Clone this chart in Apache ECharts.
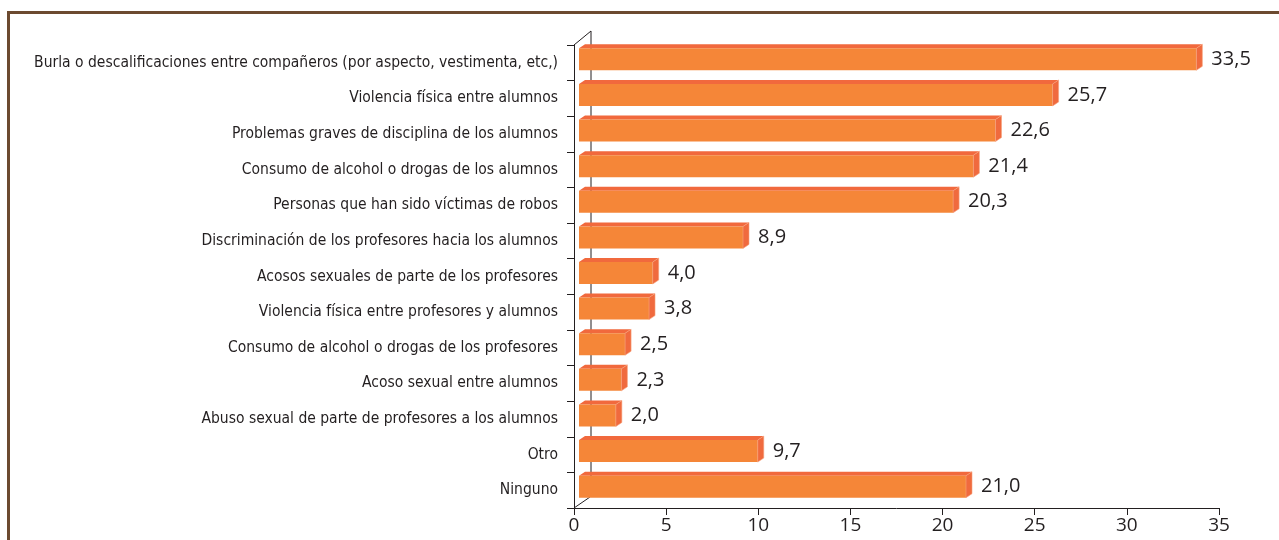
<!DOCTYPE html>
<html>
<head>
<meta charset="utf-8">
<script src="https://cdn.jsdelivr.net/npm/echarts@6/dist/echarts.min.js"></script>
<style>
  html, body { margin: 0; padding: 0; background: #fff; }
  #chart { width: 1279px; height: 540px; }
</style>
</head>
<body>
<div id="chart"></div>
<script>
// data
const categories = [
  'Burla o descalificaciones entre compañeros (por aspecto, vestimenta, etc,)',
  'Violencia física entre alumnos',
  'Problemas graves de disciplina de los alumnos',
  'Consumo de alcohol o drogas de los alumnos',
  'Personas que han sido víctimas de robos',
  'Discriminación de los profesores hacia los alumnos',
  'Acosos sexuales de parte de los profesores',
  'Violencia física entre profesores y alumnos',
  'Consumo de alcohol o drogas de los profesores',
  'Acoso sexual entre alumnos',
  'Abuso sexual de parte de profesores a los alumnos',
  'Otro',
  'Ninguno'
]
const values = [33.5, 25.7, 22.6, 21.4, 20.3, 8.9, 4.0, 3.8, 2.5, 2.3, 2.0, 9.7, 21.0]
const xMin = 0
const xMax = 35
const xStep = 5

const grid = { left: 574, top: 45, right: 60, bottom: 32, outerBoundsMode: 'none' }
const gBottom = 540 - grid.bottom

const chart = echarts.init(document.getElementById('chart'))

function fmt(v) {
  return v.toFixed(1).replace('.', ',')
}

// fake 3d bar: front face, top strip, right side
function renderBar(params, api) {
  const idx = api.value(0)
  const val = api.value(1)
  const a = api.coord([0, idx])
  const b = api.coord([val, idx])
  const dx = 6, dy = 4, h = 22
  const x0 = a[0] + 5
  const x1 = b[0] + 5
  const ft = a[1] - 14.5
  return {
    type: 'group',
    children: [
      {
        type: 'polygon',
        shape: { points: [[x0, ft], [x0 + dx, ft - dy], [x1 + dx, ft - dy], [x1, ft]] },
        style: { fill: '#f1693d' }
      },
      {
        type: 'rect',
        shape: { x: x0, y: ft, width: x1 - x0, height: h },
        style: { fill: '#f58638' }
      },
      {
        type: 'polygon',
        shape: { points: [[x1, ft], [x1 + dx, ft - dy], [x1 + dx, ft + h - dy], [x1, ft + h]] },
        style: { fill: '#f06a3e', stroke: '#f7a27c', lineWidth: 0.6 }
      },
      {
        type: 'text',
        style: {
          x: x1 + dx + 9,
          y: ft + h / 2,
          text: fmt(val),
          fill: '#231f20',
          font: '20px "Open Sans", sans-serif',
          verticalAlign: 'middle',
          align: 'left'
        }
      }
    ]
  }
}

const lineStyle = { stroke: '#231f20', lineWidth: 1 }

chart.setOption({
  animation: false,
  grid: grid,
  xAxis: {
    type: 'value',
    min: xMin,
    max: xMax,
    interval: xStep,
    splitLine: { show: false },
    axisLine: { show: true, lineStyle: { color: '#231f20', width: 1 } },
    axisTick: { show: true, length: 7, lineStyle: { color: '#231f20' } },
    axisLabel: {
      color: '#231f20',
      fontSize: 19,
      fontFamily: 'Open Sans, sans-serif',
      margin: 8
    }
  },
  yAxis: {
    type: 'category',
    inverse: true,
    data: categories,
    axisLine: { show: true, lineStyle: { color: '#231f20', width: 1 } },
    axisTick: { show: true, length: 7, lineStyle: { color: '#231f20' } },
    axisLabel: {
      color: '#231f20',
      fontSize: 15.5,
      fontFamily: '"Liberation Sans Narrow", "DejaVu Sans Condensed", sans-serif',
      margin: 16
    }
  },
  graphic: [
    // brown frame
    { type: 'line', shape: { x1: 8, y1: 12.5, x2: 1279, y2: 12.5 }, style: { stroke: '#6c4a30', lineWidth: 3 } },
    { type: 'line', shape: { x1: 8.5, y1: 11, x2: 8.5, y2: 540 }, style: { stroke: '#6c4a30', lineWidth: 3 } },
    // back wall of the 3d box
    { type: 'line', z: 0, shape: { x1: grid.left, y1: grid.top, x2: grid.left + 17, y2: grid.top - 14 }, style: lineStyle },
    { type: 'line', z: 0, shape: { x1: grid.left + 17, y1: grid.top - 14, x2: grid.left + 17, y2: gBottom - 11 }, style: lineStyle },
    { type: 'line', z: 0, shape: { x1: grid.left, y1: gBottom, x2: grid.left + 16, y2: gBottom - 11 }, style: lineStyle }
  ],
  series: [{
    type: 'custom',
    renderItem: renderBar,
    encode: { x: 1, y: 0 },
    data: values.map((v, i) => [i, v]),
    z: 5
  }]
})
</script>
</body>
</html>
